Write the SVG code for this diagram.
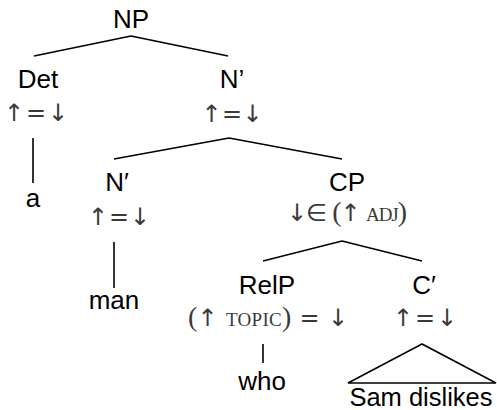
<svg xmlns="http://www.w3.org/2000/svg" width="497" height="410" viewBox="0 0 497 410">
<style>
.lab{font-family:"Liberation Sans","DejaVu Sans",sans-serif;font-size:26px;fill:#000;text-anchor:middle}
.m{font-family:"DejaVu Sans",sans-serif;font-size:24px;fill:#3a3a3a;text-anchor:middle}
.r{font-family:"Liberation Serif","DejaVu Serif",serif;font-size:28px}
.sc{font-family:"Liberation Serif","DejaVu Serif",serif;font-size:19px}
.e{stroke:#000;stroke-width:1.6;fill:none}
</style>
<rect width="497" height="410" fill="#fff"/>
<g id="edges">
<path class="e" d="M131,36L34,56M131,36L228,56"/>
<path class="e" d="M33,138L33,183"/>
<path class="e" d="M229,138L114,159M229,138L342,159"/>
<path class="e" d="M114,242L114,288"/>
<path class="e" d="M342,241L263,261M342,241L422,261"/>
<path class="e" d="M263,344L263,363"/>
<path class="e" d="M422,344L348,383L496,383Z"/>
</g>
<g id="np"><text class="lab" x="131" y="28">NP</text></g>
<g id="det"><text class="lab" x="38" y="88">Det</text><text class="m" x="36" y="121" textLength="64" lengthAdjust="spacing">↑ = ↓</text></g>
<g id="a"><text class="lab" x="33" y="207">a</text></g>
<g id="nbar1"><text class="lab" x="232" y="88">N’</text><text class="m" x="232" y="122" textLength="61" lengthAdjust="spacing">↑ = ↓</text></g>
<g id="nbar2"><text class="lab" x="117" y="191">N′</text><text class="m" x="119" y="225" textLength="62" lengthAdjust="spacing">↑ = ↓</text></g>
<g id="man"><text class="lab" x="114" y="309">man</text></g>
<g id="cp"><text class="lab" x="347" y="191">CP</text><text class="m" x="347" y="221" textLength="120" lengthAdjust="spacing">↓∈ <tspan class="r">(</tspan>↑ <tspan class="sc">ADJ</tspan><tspan class="r">)</tspan></text></g>
<g id="relp"><text class="lab" x="267" y="294">RelP</text><text class="m" x="268" y="326" textLength="160" lengthAdjust="spacing"><tspan class="r">(</tspan>↑ <tspan class="sc">TOPIC</tspan><tspan class="r">)</tspan> = ↓</text></g>
<g id="who"><text class="lab" x="262" y="390">who</text></g>
<g id="cbar"><text class="lab" x="424" y="294">C′</text><text class="m" x="425" y="326" textLength="64" lengthAdjust="spacing">↑ = ↓</text></g>
<g id="sam"><text class="lab" x="421" y="406" style="font-size:25.5px">Sam dislikes</text></g>
</svg>
